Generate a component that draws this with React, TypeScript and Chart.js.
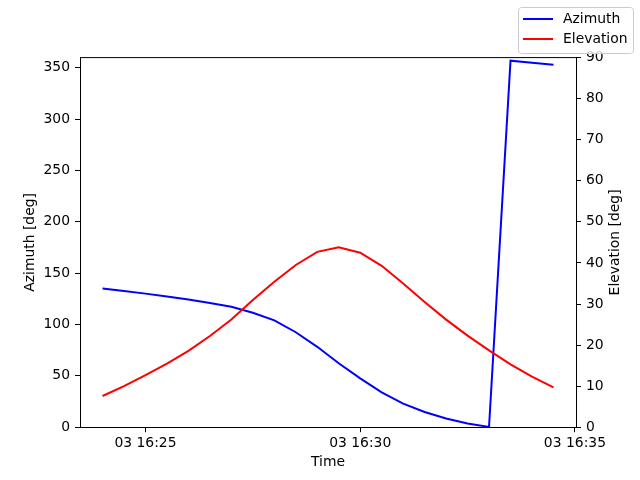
import { useEffect, useRef } from "react";
import { Chart, registerables } from "chart.js";

Chart.register(...registerables);

// samples every 30 s on day 03
const times = [
  "16:24:00", "16:24:30", "16:25:00", "16:25:30", "16:26:00", "16:26:30",
  "16:27:00", "16:27:30", "16:28:00", "16:28:30", "16:29:00", "16:29:30",
  "16:30:00", "16:30:30", "16:31:00", "16:31:30", "16:32:00", "16:32:30",
  "16:33:00", "16:33:30", "16:34:00", "16:34:30",
];
const azimuth = [
  135.1, 132.7, 130.1, 127.3, 124.4, 121.0, 117.3, 111.5, 104.0, 92.5, 78.3,
  62.3, 47.6, 34.0, 23.0, 14.8, 8.5, 3.7, 0.3, 357.0, 355.0, 353.0,
];
const elevation = [
  7.6, 10.0, 12.7, 15.5, 18.6, 22.2, 26.2, 31.0, 35.4, 39.5, 42.7, 43.8, 42.5,
  39.3, 35.0, 30.5, 26.2, 22.3, 18.7, 15.3, 12.3, 9.7,
];
const timeTicks = ["16:25:00", "16:30:00", "16:35:00"];
const timeTickLabels = ["03 16:25", "03 16:30", "03 16:35"];
const azimuthTicks = [0, 50, 100, 150, 200, 250, 300, 350];
const elevationTicks = [0, 10, 20, 30, 40, 50, 60, 70, 80, 90];

const FONT = "DejaVu Sans";
const FS = 13.9;

const toSec = (t: string) => {
  const [h, m, s] = t.split(":").map(Number);
  return h * 3600 + m * 60 + s;
};

const frame = {
  id: "frame",
  afterDraw(chart: Chart) {
    const { ctx, chartArea: a } = chart;
    ctx.save();
    ctx.strokeStyle = "black";
    ctx.lineWidth = 1;
    ctx.beginPath();
    ctx.moveTo(a.left, a.top);
    ctx.lineTo(a.right, a.top);
    ctx.stroke();

    ctx.fillStyle = "black";
    ctx.font = `${FS}px "${FONT}"`;
    ctx.textAlign = "center";
    ctx.textBaseline = "middle";
    ctx.fillText("Time", (a.left + a.right) / 2, 462);
    const midY = (a.top + a.bottom) / 2;
    ctx.save();
    ctx.translate(30, midY);
    ctx.rotate(-Math.PI / 2);
    ctx.fillText("Azimuth [deg]", 0, 0);
    ctx.restore();
    ctx.save();
    ctx.translate(615, midY);
    ctx.rotate(-Math.PI / 2);
    ctx.fillText("Elevation [deg]", 0, 0);
    ctx.restore();

    // figure legend, upper right
    const bx = 518.5, by = 7.5, bw = 115, bh = 46, r = 3;
    ctx.beginPath();
    ctx.moveTo(bx + r, by);
    ctx.arcTo(bx + bw, by, bx + bw, by + bh, r);
    ctx.arcTo(bx + bw, by + bh, bx, by + bh, r);
    ctx.arcTo(bx, by + bh, bx, by, r);
    ctx.arcTo(bx, by, bx + bw, by, r);
    ctx.closePath();
    ctx.fillStyle = "rgba(255,255,255,0.8)";
    ctx.fill();
    ctx.strokeStyle = "#cccccc";
    ctx.stroke();
    const items = [
      { label: "Azimuth", color: "#0000ff", y: 19 },
      { label: "Elevation", color: "#ff0000", y: 39 },
    ];
    ctx.textAlign = "left";
    items.forEach((it) => {
      ctx.strokeStyle = it.color;
      ctx.lineWidth = 2;
      ctx.beginPath();
      ctx.moveTo(523, it.y);
      ctx.lineTo(553, it.y);
      ctx.stroke();
      ctx.fillStyle = "black";
      ctx.fillText(it.label, 563, it.y);
    });
    ctx.restore();
  },
};

export default function App() {
  const canvasRef = useRef<HTMLCanvasElement>(null);
  const chartRef = useRef<Chart | null>(null);

  useEffect(() => {
    if (!canvasRef.current) return;
    if (chartRef.current) chartRef.current.destroy();

    const t0 = toSec(times[0]);
    const xs = times.map((t) => toSec(t) - t0);
    const span = xs[xs.length - 1] - xs[0];
    const xTickValues = timeTicks.map((t) => toSec(t) - t0);

    const tickFont = { family: FONT, size: FS };
    const axisGrid = {
      drawOnChartArea: false,
      drawTicks: true,
      tickLength: 5,
      tickColor: "black",
      tickWidth: 1,
    };

    chartRef.current = new Chart(canvasRef.current, {
      type: "line",
      data: {
        datasets: [
          {
            label: "Azimuth",
            data: xs.map((x, i) => ({ x, y: azimuth[i] })),
            borderColor: "#0000ff",
            borderWidth: 2,
            pointRadius: 0,
            tension: 0,
            yAxisID: "y",
            order: 1,
          },
          {
            label: "Elevation",
            data: xs.map((x, i) => ({ x, y: elevation[i] })),
            borderColor: "#ff0000",
            borderWidth: 2,
            pointRadius: 0,
            tension: 0,
            yAxisID: "y1",
            order: 0,
          },
        ],
      },
      options: {
        responsive: false,
        animation: false,
        layout: { padding: { top: 57.6, left: 0, right: 0, bottom: 0 } },
        plugins: { legend: { display: false }, tooltip: { enabled: false } },
        scales: {
          x: {
            type: "linear",
            min: xs[0] - span * 0.05,
            max: xs[xs.length - 1] + span * 0.05,
            grid: axisGrid,
            border: { display: true, color: "black", width: 1 },
            afterBuildTicks: (s: any) => {
              s.ticks = xTickValues.map((v) => ({ value: v }));
            },
            afterFit: (s: any) => {
              s.height = 52.8;
            },
            ticks: {
              color: "black",
              font: tickFont,
              padding: 3,
              maxRotation: 0,
              autoSkip: false,
              callback: (v: any) => {
                const i = xTickValues.indexOf(Number(v));
                return i >= 0 ? timeTickLabels[i] : "";
              },
            },
          },
          y: {
            type: "linear",
            position: "left",
            min: 0,
            max: 360,
            grid: axisGrid,
            border: { display: true, color: "black", width: 1 },
            afterBuildTicks: (s: any) => {
              s.ticks = azimuthTicks.map((v) => ({ value: v }));
            },
            afterFit: (s: any) => {
              s.width = 80;
            },
            ticks: { color: "black", font: tickFont, padding: 5 },
          },
          y1: {
            type: "linear",
            position: "right",
            min: 0,
            max: 90,
            grid: axisGrid,
            border: { display: true, color: "black", width: 1 },
            afterBuildTicks: (s: any) => {
              s.ticks = elevationTicks.map((v) => ({ value: v }));
            },
            afterFit: (s: any) => {
              s.width = 64;
            },
            ticks: { color: "black", font: tickFont, padding: 5 },
          },
        },
      },
      plugins: [frame],
    });

    return () => {
      if (chartRef.current) {
        chartRef.current.destroy();
        chartRef.current = null;
      }
    };
  }, []);

  return (
    <div style={{ position: "absolute", left: 0, top: 0, width: 640, height: 480, background: "white" }}>
      <canvas ref={canvasRef} width={640} height={480} />
    </div>
  );
}
